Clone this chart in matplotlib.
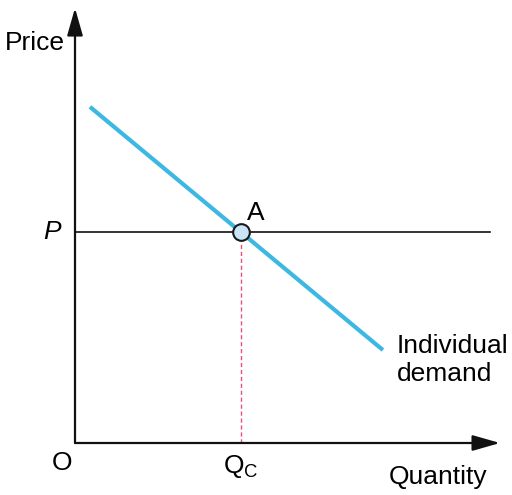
import matplotlib.pyplot as plt

plt.rcParams['font.family'] = ['Liberation Sans', 'DejaVu Sans']

# demand curve endpoints (quantity, price) and equilibrium values
demand_q = [0.36, 7.42]
demand_p = [8.10, 2.24]
price_p = 5.08
quantity_c = 4.0
x_axis_end = 10.24
y_axis_end = 10.48
price_line_end = 10.0

s = 41.5  # pixels per unit
fig = plt.figure(figsize=(5.12, 4.95), dpi=100)
ax = fig.add_axes([0, 0, 1, 1])
ax.set_xlim(-75 / s, (512 - 75) / s)
ax.set_ylim(-(495 - 443) / s, 443 / s)
ax.axis('off')

# axes with arrows
arrow = dict(arrowstyle='-|>,head_length=1.4,head_width=0.4', color='#111111',
             lw=1.6, mutation_scale=12, shrinkA=0, shrinkB=0)
ax.annotate('', xy=(x_axis_end, 0), xytext=(0, 0), arrowprops=arrow)
ax.annotate('', xy=(0, y_axis_end), xytext=(0, 0), arrowprops=arrow)

# price line
ax.plot([0, price_line_end], [price_p, price_p], color='#111111', lw=1.2)

# dashed drop line
ax.plot([quantity_c, quantity_c], [0, price_p], color='#e8507a', lw=1.0,
        ls=(0, (3, 2)))

# demand curve
ax.plot(demand_q, demand_p, color='#3cb8e2', lw=3, solid_capstyle='butt')

# point A
ax.plot([quantity_c], [price_p], 'o', ms=12, mfc='#c8e4f6', mec='#1a1a1a', mew=1.5)

fs = 19
ax.text(-40 / s, (443 - 43) / s, 'Price', fontsize=fs, ha='center', va='center')
ax.text(-23 / s, price_p, 'P', fontsize=fs, ha='center', va='center', style='italic')
ax.text(-13 / s, -20 / s, 'O', fontsize=fs, ha='center', va='center')
ax.text(quantity_c, -23 / s, r'Q$_{\mathregular{C}}$', fontsize=fs, ha='center', va='center')
ax.text(quantity_c + 15 / s, price_p + 19 / s, 'A', fontsize=fs, ha='center', va='center')
ax.text(363 / s, -34 / s, 'Quantity', fontsize=fs, ha='center', va='center')
ax.text(322 / s, (443 - 360) / s, 'Individual\ndemand', fontsize=fs, ha='left',
        va='center', linespacing=1.2)

fig.savefig('out.png', dpi=100)
